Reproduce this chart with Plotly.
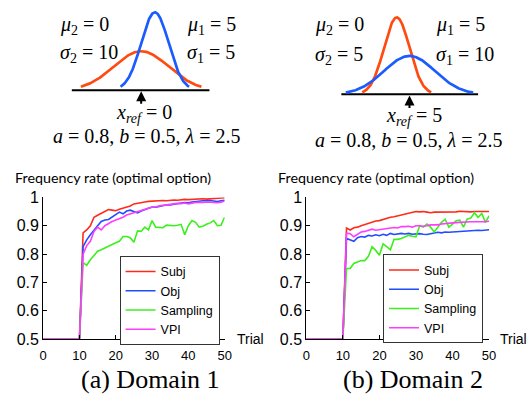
import numpy as np
import plotly.graph_objects as go

W, H = 532, 414

# ---------------- data ----------------
TRIALS = list(range(0, 51))
PRE = [0.5] * 11  # trials 0..10

D1_SUBJ = [0.875, 0.885, 0.900, 0.930, 0.937, 0.943, 0.950, 0.957, 0.955, 0.953,
           0.958, 0.962, 0.965, 0.970, 0.977, 0.980, 0.982, 0.984, 0.986, 0.987,
           0.986, 0.988, 0.989, 0.988, 0.990, 0.991, 0.990, 0.992, 0.993, 0.992,
           0.993, 0.994, 0.993, 0.995, 0.994, 0.995, 0.994, 0.996, 0.996, 0.999]
D1_OBJ = [0.826, 0.850, 0.868, 0.886, 0.900, 0.915, 0.920, 0.922, 0.930, 0.940,
          0.948, 0.942, 0.952, 0.955, 0.950, 0.945, 0.952, 0.958, 0.962, 0.966,
          0.965, 0.968, 0.972, 0.974, 0.973, 0.976, 0.978, 0.980, 0.982, 0.981,
          0.984, 0.986, 0.987, 0.988, 0.988, 0.989, 0.987, 0.985, 0.988, 0.990]
D1_SAMP = [0.770, 0.760, 0.780, 0.795, 0.810, 0.815, 0.822, 0.826, 0.835, 0.840,
           0.845, 0.862, 0.862, 0.858, 0.842, 0.882, 0.880, 0.895, 0.885, 0.918,
           0.895, 0.895, 0.893, 0.902, 0.900, 0.900, 0.902, 0.905, 0.868, 0.900,
           0.918, 0.912, 0.895, 0.898, 0.905, 0.910, 0.918, 0.900, 0.902, 0.930]
D1_VPI = [0.800, 0.830, 0.845, 0.880, 0.895, 0.885, 0.900, 0.908, 0.915, 0.920,
          0.925, 0.930, 0.938, 0.942, 0.948, 0.952, 0.955, 0.958, 0.962, 0.965,
          0.966, 0.970, 0.972, 0.974, 0.975, 0.977, 0.979, 0.978, 0.980, 0.977,
          0.980, 0.982, 0.983, 0.982, 0.984, 0.983, 0.980, 0.981, 0.983, 0.987]

D2_SUBJ = [0.892, 0.885, 0.893, 0.895, 0.900, 0.904, 0.910, 0.912, 0.917, 0.918,
           0.922, 0.928, 0.930, 0.932, 0.935, 0.938, 0.940, 0.945, 0.948, 0.950,
           0.949, 0.950, 0.948, 0.946, 0.948, 0.948, 0.949, 0.950, 0.949, 0.950,
           0.949, 0.951, 0.950, 0.950, 0.949, 0.950, 0.950, 0.950, 0.950, 0.950]
D2_OBJ = [0.855, 0.849, 0.845, 0.858, 0.862, 0.860, 0.866, 0.864, 0.868, 0.865,
          0.870, 0.866, 0.873, 0.869, 0.871, 0.873, 0.871, 0.873, 0.870, 0.872,
          0.872, 0.870, 0.869, 0.872, 0.874, 0.877, 0.875, 0.878, 0.877, 0.878,
          0.879, 0.880, 0.879, 0.881, 0.883, 0.882, 0.884, 0.883, 0.884, 0.886]
D2_SAMP = [0.749, 0.749, 0.767, 0.773, 0.777, 0.777, 0.792, 0.826, 0.813, 0.796,
           0.836, 0.826, 0.815, 0.852, 0.852, 0.855, 0.861, 0.866, 0.863, 0.861,
           0.900, 0.895, 0.906, 0.895, 0.878, 0.895, 0.912, 0.923, 0.895, 0.906,
           0.918, 0.920, 0.895, 0.923, 0.927, 0.946, 0.929, 0.943, 0.912, 0.935]
D2_VPI = [0.874, 0.872, 0.861, 0.870, 0.878, 0.880, 0.884, 0.888, 0.884, 0.886,
          0.889, 0.891, 0.894, 0.894, 0.892, 0.897, 0.897, 0.898, 0.895, 0.900,
          0.900, 0.898, 0.900, 0.903, 0.903, 0.903, 0.906, 0.908, 0.908, 0.910,
          0.911, 0.912, 0.914, 0.913, 0.914, 0.914, 0.915, 0.914, 0.914, 0.916]

SERIES = ["Subj", "Obj", "Sampling", "VPI"]
COLORS = ["#ff2a1a", "#1f4dff", "#3cf01e", "#ff3cff"]
DOMAINS = [[D1_SUBJ, D1_OBJ, D1_SAMP, D1_VPI], [D2_SUBJ, D2_OBJ, D2_SAMP, D2_VPI]]

Y_TICKS = [0.5, 0.6, 0.7, 0.8, 0.9, 1.0]
Y_TICKTEXT = ["0.5", "0.6", "0.7", "0.8", "0.9", "1"]
X_TICKS = [0, 10, 20, 30, 40, 50]

# inset gaussians: (mu, sigma, half-width in sigmas)
INSET = [
    {"mu": [5, 0], "sigma": [5, 10], "span": [2.5, 2.2], "col": ["#1a5cff", "#ff4a12"],
     "xref_val": 0, "mu_txt": ["5", "0"], "sig_txt": ["5", "10"]},
    {"mu": [5, 0], "sigma": [10, 5], "span": [2.5, 2.7], "col": ["#1a5cff", "#ff4a12"],
     "xref_val": 5, "mu_txt": ["5", "0"], "sig_txt": ["10", "5"]},
]
PARAM_TXT = "<i>a</i> = 0.8, <i>b</i> = 0.5, <i>λ</i> = 2.5"
CAPTIONS = ["(a) Domain 1", "(b) Domain 2"]

SERIF = "Liberation Serif, Times New Roman, Times, DejaVu Serif, serif"
SANS = "Liberation Sans, Arial, Helvetica, sans-serif"


def px(x):
    return x / W


def py(y):
    return 1 - y / H


fig = go.Figure()

# ---------------- main line plots ----------------
for d, series in enumerate(DOMAINS):
    ax = "x" if d == 0 else "x2"
    ay = "y" if d == 0 else "y2"
    for name, vals, col in zip(SERIES, series, COLORS):
        fig.add_trace(go.Scatter(
            x=TRIALS, y=PRE + vals, mode="lines", name=name,
            line=dict(color=col, width=1.6), xaxis=ax, yaxis=ay,
            legend="legend" if d == 0 else "legend2", cliponaxis=False,
        ))

axis_common = dict(showline=True, linecolor="black", linewidth=1, ticks="inside",
                   ticklen=4, tickcolor="black", showgrid=False, zeroline=False)

fig.update_layout(
    xaxis=dict(domain=[px(40), px(225.3)], range=[0, 50], tickvals=X_TICKS,
               tickfont=dict(family=SANS, size=13, color="black"), anchor="y",
               ticklabelstandoff=4, **axis_common),
    yaxis=dict(domain=[py(345.3), py(197.5)], range=[0.5, 1.0], tickvals=Y_TICKS,
               ticktext=Y_TICKTEXT, tickfont=dict(family=SANS, size=16, color="black"),
               anchor="x", **axis_common),
    xaxis2=dict(domain=[px(308.7), px(495.3)], range=[0, 50], tickvals=X_TICKS,
                tickfont=dict(family=SANS, size=13, color="black"), anchor="y2",
                ticklabelstandoff=4, **axis_common),
    yaxis2=dict(domain=[py(345.3), py(197.5)], range=[0.5, 1.0], tickvals=Y_TICKS,
                ticktext=Y_TICKTEXT, tickfont=dict(family=SANS, size=16, color="black"),
                anchor="x2", **axis_common),
)

legend_common = dict(bgcolor="white", bordercolor="#333", borderwidth=1,
                     font=dict(family=SANS, size=12.5, color="black"),
                     xanchor="left", yanchor="top", tracegroupgap=0, itemwidth=30)
fig.update_layout(
    legend=dict(x=px(118), y=py(258.5), **legend_common),
    legend2=dict(x=px(387), y=py(257), **legend_common),
)

# ---------------- insets ----------------
inset_axes = [
    dict(xd=[px(69), px(210)], xr=[-25.4, 25.0], yd=[py(90), 1.0], yr=[-0.00423, 0.0842]),
    dict(xd=[px(344.3), px(484.3)], xr=[-21.8, 32.0], yd=[py(94), 1.0], yr=[-0.00398, 0.0896]),
]
for i, (ins, axs) in enumerate(zip(INSET, inset_axes)):
    xa = f"x{3 + i}"
    ya = f"y{3 + i}"
    fig.add_trace(go.Scatter(x=axs["xr"], y=[0, 0], mode="lines",
                             line=dict(color="black", width=2), xaxis=xa, yaxis=ya,
                             showlegend=False, hoverinfo="skip"))
    for mu, sg, sp, col in zip(ins["mu"][::-1], ins["sigma"][::-1], ins["span"][::-1], ins["col"][::-1]):
        xs = np.linspace(mu - sp * sg, mu + sp * sg, 200)
        ys = np.exp(-0.5 * ((xs - mu) / sg) ** 2) / (sg * np.sqrt(2 * np.pi))
        fig.add_trace(go.Scatter(x=xs, y=ys, mode="lines", line=dict(color=col, width=2.7),
                                 xaxis=xa, yaxis=ya, showlegend=False, hoverinfo="skip"))
    fig.update_layout(**{
        f"xaxis{3 + i}": dict(domain=axs["xd"], range=axs["xr"], visible=False, anchor=ya),
        f"yaxis{3 + i}": dict(domain=axs["yd"], range=axs["yr"], visible=False, anchor=xa),
    })
    fig.add_annotation(x=ins["xref_val"], y=-0.0012, xref=xa, yref=ya, text="",
                       showarrow=True, ax=0, ay=14, arrowhead=2, arrowsize=1,
                       arrowwidth=2, arrowcolor="black", standoff=0)

serif = dict(family=SERIF, size=20, color="black")


def txt(x, y, s, xanchor="left", font=serif):
    fig.add_annotation(x=px(x), y=py(y), xref="paper", yref="paper", text=s,
                       showarrow=False, xanchor=xanchor, yanchor="middle", font=font)


L = INSET[0]
txt(55, 18, f"<i>μ</i><sub>2</sub> = {L['mu_txt'][1]}")
txt(55, 47, f"<i>σ</i><sub>2</sub> = {L['sig_txt'][1]}")
txt(185, 18, f"<i>μ</i><sub>1</sub> = {L['mu_txt'][0]}")
txt(185, 47, f"<i>σ</i><sub>1</sub> = {L['sig_txt'][0]}")
txt(112, 110, f"<i>x</i><sub><i>ref</i></sub> = {L['xref_val']}")
txt(146, 134, PARAM_TXT, xanchor="center")

R = INSET[1]
txt(316, 18, f"<i>μ</i><sub>2</sub> = {R['mu_txt'][1]}")
txt(316, 50, f"<i>σ</i><sub>2</sub> = {R['sig_txt'][1]}")
txt(439, 18, f"<i>μ</i><sub>1</sub> = {R['mu_txt'][0]}")
txt(439, 50, f"<i>σ</i><sub>1</sub> = {R['sig_txt'][0]}")
txt(388, 113, f"<i>x</i><sub><i>ref</i></sub> = {R['xref_val']}")
txt(414, 138, PARAM_TXT, xanchor="center")

title_font = dict(family="Lato, Open Sans, sans-serif", size=14.3, color="black")
txt(9, 177, "Frequency rate (optimal option)", font=title_font)
txt(278, 177, "Frequency rate (optimal option)", font=title_font)
trial_font = dict(family=SANS, size=14, color="black")
txt(236, 345, "Trial", font=trial_font)
txt(504, 345, "Trial", font=trial_font)

cap_font = dict(family=SERIF, size=26, color="black")
txt(150, 387, CAPTIONS[0], xanchor="center", font=cap_font)
txt(418, 387, CAPTIONS[1], xanchor="center", font=cap_font)

fig.update_layout(width=W, height=H, margin=dict(l=0, r=0, t=0, b=0),
                  paper_bgcolor="white", plot_bgcolor="white")

fig.write_html("out.html", config={"displayModeBar": False},
               post_script="document.body.style.margin='0';document.body.style.overflow='hidden';")
